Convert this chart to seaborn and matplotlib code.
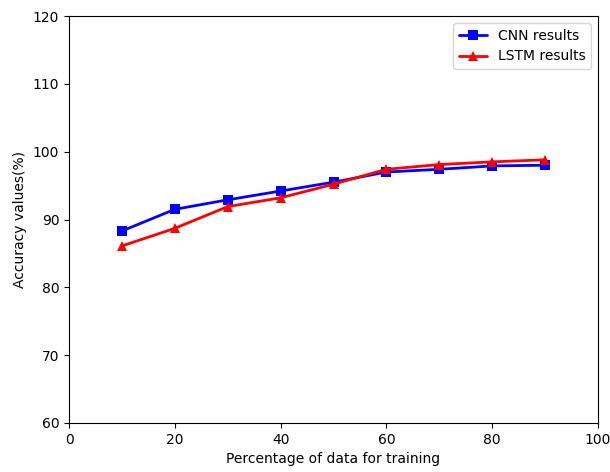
import matplotlib
matplotlib.use("Agg")
import matplotlib.pyplot as plt
import seaborn as sns
import pandas as pd

x_vals = [10, 20, 30, 40, 50, 60, 70, 80, 90]
cnn = [88.3, 91.5, 92.9, 94.2, 95.5, 97.0, 97.4, 97.9, 98.0]
lstm = [86.1, 88.7, 91.9, 93.2, 95.2, 97.4, 98.1, 98.5, 98.8]

df = pd.DataFrame({
    "x": x_vals * 2,
    "y": cnn + lstm,
    "model": ["CNN results"] * len(x_vals) + ["LSTM results"] * len(x_vals),
})

sns.set_style("ticks", {"text.color": "black", "axes.labelcolor": "black",
                        "xtick.color": "black", "ytick.color": "black",
                        "axes.edgecolor": "black"})
plt.rcParams['font.family'] = ['DejaVu Sans']
fig = plt.figure(figsize=(6.1, 4.72), dpi=100)
ax = fig.add_axes([69/610, 1-423/472, (598-69)/610, (423-16)/472])

sns.lineplot(data=df, x="x", y="y", hue="model", style="model",
             palette={"CNN results": "blue", "LSTM results": "red"},
             markers={"CNN results": "s", "LSTM results": "^"},
             dashes=False, linewidth=2, markersize=7, markeredgewidth=0,
             ax=ax)

ax.set_xlim(0, 100)
ax.set_ylim(60, 120)
ax.set_xticks(range(0, 101, 20))
ax.set_yticks(range(60, 121, 10))
ax.set_xlabel("Percentage of data for training", fontsize=10, color="black")
ax.set_ylabel("Accuracy values(%)", fontsize=10, color="black")
ax.tick_params(labelsize=10, colors="black")
for s in ax.spines.values():
    s.set_visible(True)
    s.set_color("black")
    s.set_linewidth(0.8)
leg = ax.legend(loc="upper right", fontsize=10, title=None)
for t in leg.get_texts():
    t.set_color("black")
fig.savefig("out.png", dpi=100)
